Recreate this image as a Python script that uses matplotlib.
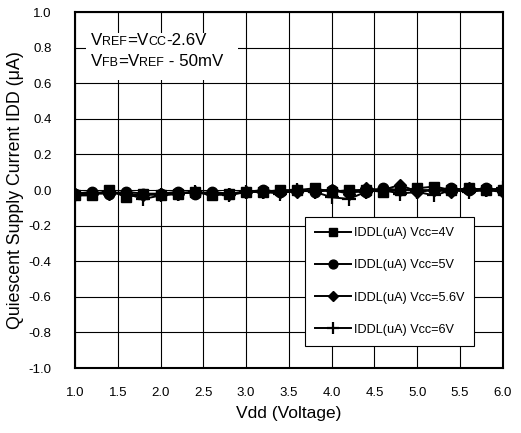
import matplotlib
matplotlib.use("Agg")
import matplotlib.pyplot as plt
from matplotlib.patches import Rectangle
from matplotlib.offsetbox import TextArea, HPacker, VPacker, AnchoredOffsetbox

plt.rcParams['font.family'] = ['Liberation Sans', 'DejaVu Sans']

# DATA
vdd = [1.0, 1.2, 1.4, 1.6, 1.8, 2.0, 2.2, 2.4, 2.6, 2.8, 3.0, 3.2, 3.4,
       3.6, 3.8, 4.0, 4.2, 4.4, 4.6, 4.8, 5.0, 5.2, 5.4, 5.6, 5.8, 6.0]
idd_4v = [-0.03, -0.03, 0.00, -0.04, -0.02, -0.03, -0.02, -0.01, -0.03, -0.02, -0.01, -0.01, 0.00,
          0.00, 0.01, -0.01, 0.00, 0.00, -0.01, 0.00, 0.01, 0.02, 0.00, 0.01, 0.00, 0.00]
idd_5v = [-0.02, -0.01, -0.02, -0.01, -0.02, -0.02, -0.01, -0.02, -0.01, -0.02, -0.01, 0.00, -0.01,
          0.00, -0.01, 0.00, -0.01, -0.01, 0.01, 0.00, 0.00, 0.00, 0.01, 0.00, 0.01, 0.00]
idd_56v = [-0.02, -0.02, -0.02, -0.02, -0.03, -0.02, -0.02, -0.01, -0.02, -0.02, -0.01, -0.01, -0.01,
           -0.01, 0.00, 0.00, -0.02, 0.01, 0.00, 0.03, -0.01, 0.00, -0.01, 0.01, 0.00, -0.01]
idd_6v = [-0.03, -0.02, -0.01, -0.02, -0.05, -0.03, -0.02, -0.01, -0.02, -0.03, -0.01, -0.01, -0.02,
          0.00, -0.01, -0.04, -0.05, -0.01, 0.00, -0.02, -0.01, -0.03, 0.00, -0.01, 0.00, 0.01]
labels = ['IDDL(uA) Vcc=4V', 'IDDL(uA) Vcc=5V', 'IDDL(uA) Vcc=5.6V', 'IDDL(uA) Vcc=6V']
x_ticks = [1.0, 1.5, 2.0, 2.5, 3.0, 3.5, 4.0, 4.5, 5.0, 5.5, 6.0]
y_ticks = [-1.0, -0.8, -0.6, -0.4, -0.2, 0.0, 0.2, 0.4, 0.6, 0.8, 1.0]

fig = plt.figure(figsize=(5.21, 4.33), dpi=100)
ax = fig.add_axes([0.144, 0.150, 0.821, 0.822])

ax.plot(vdd, idd_4v, color='black', lw=1.4, marker='s', ms=7.5, label=labels[0])
ax.plot(vdd, idd_5v, color='black', lw=1.4, marker='o', ms=7.5, label=labels[1])
ax.plot(vdd, idd_56v, color='black', lw=1.4, marker='D', ms=6.5, label=labels[2])
ax.plot(vdd, idd_6v, color='black', lw=1.4, marker='+', ms=10, mew=1.6, label=labels[3])

ax.set_xlim(1.0, 6.0)
ax.set_ylim(-1.0, 1.0)
ax.set_xticks(x_ticks)
ax.set_yticks(y_ticks)
ax.set_xticklabels(['%.1f' % v for v in x_ticks], fontsize=9.5)
ax.set_yticklabels(['%.1f' % v for v in y_ticks], fontsize=9.5)
ax.tick_params(axis='x', direction='in', length=0, pad=14)
ax.tick_params(axis='y', direction='in', length=0, pad=17)
ax.grid(True, color='black', lw=0.8)
ax.set_axisbelow(True)
for s in ax.spines.values():
    s.set_linewidth(1.5)

ax.set_xlabel('Vdd (Voltage)', fontsize=12.5, labelpad=5)
ax.set_ylabel('Quiescent Supply Current IDD (\u03bcA)', fontsize=12.8, labelpad=3)

leg = ax.legend(loc='upper left', bbox_to_anchor=(0.537, 0.424), fontsize=9.1, frameon=True,
                fancybox=False, edgecolor='black', framealpha=1, handlelength=2.9,
                labelspacing=1.6, borderpad=0.8, handletextpad=0.2, borderaxespad=0)
leg.get_frame().set_linewidth(0.8)
for h in leg.legend_handles:
    h.set_markersize(h.get_markersize() * 0.85)

# CONDITION TEXT (small caps subscripts) on white patch
ax.add_patch(Rectangle((0.026, 0.809), 0.355, 0.132, transform=ax.transAxes,
                       facecolor='white', edgecolor='none', zorder=2))
big = dict(fontsize=12.2)
small = dict(fontsize=9)
line1 = HPacker(children=[TextArea('V', textprops=big), TextArea('REF', textprops=small),
                          TextArea('=V', textprops=big), TextArea('CC', textprops=small),
                          TextArea('-2.6V', textprops=big)], align='baseline', pad=0, sep=0)
line2 = HPacker(children=[TextArea('V', textprops=big), TextArea('FB', textprops=small),
                          TextArea('=V', textprops=big), TextArea('REF', textprops=small),
                          TextArea(' - 50mV', textprops=big)], align='baseline', pad=0, sep=0)
box = VPacker(children=[line1, line2], align='left', pad=0, sep=4)
anch = AnchoredOffsetbox(loc='upper left', child=box, bbox_to_anchor=(0.037, 0.94),
                         bbox_transform=ax.transAxes, frameon=False, pad=0, borderpad=0)
anch.set_zorder(3)
ax.add_artist(anch)

fig.savefig('out.png', dpi=100)
